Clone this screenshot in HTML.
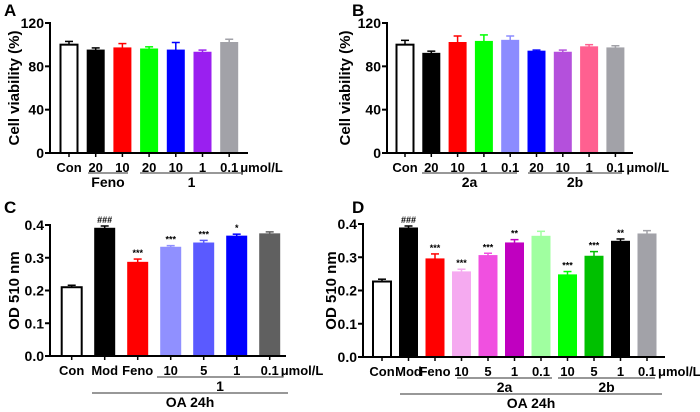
<!DOCTYPE html>
<html><head><meta charset="utf-8"><style>
html,body{margin:0;padding:0;background:#fff;width:700px;height:412px;overflow:hidden}
svg text{font-family:"Liberation Sans",Arial,sans-serif;font-weight:bold;fill:#000}
</style></head><body>
<svg id="fig" width="700" height="412" viewBox="0 0 700 412" xmlns="http://www.w3.org/2000/svg"></svg>
<script>
// Panel A data
const aCats = ["Con","20","10","20","10","1","0.1"];
const aVals = [100,95,97,96,95,93,102];
const aErrs = [3,2,4,2,7,2,3];
const aColors = ["#fff","#000","#ff0000","#00ff00","#0000ff","#9a1ff0","#a2a2a8"];
const aTicks = [0,40,80,120];
// Panel B data
const bCats = ["Con","20","10","1","0.1","20","10","1","0.1"];
const bVals = [100,92,102,103,104,94,93,98,97];
const bErrs = [4,2,6,6,4,1,2,2,2];
const bColors = ["#fff","#000","#ff0000","#00ff00","#8c8cff","#0000ff","#b450dc","#ff6090","#a2a2a8"];
const bTicks = [0,40,80,120];
// Panel C data
const cCats = ["Con","Mod","Feno","10","5","1","0.1"];
const cVals = [0.21,0.39,0.286,0.332,0.345,0.366,0.373];
const cErrs = [0.006,0.007,0.01,0.005,0.008,0.006,0.006];
const cSig = ["","###","***","***","***","*",""];
const cColors = ["#fff","#000","#ff0000","#9090ff","#5a5aff","#0000ff","#606060"];
const cTicks = ["0.0","0.1","0.2","0.3","0.4"];
// Panel D data
const dCats = ["Con","Mod","Feno","10","5","1","0.1","10","5","1","0.1"];
const dVals = [0.227,0.388,0.295,0.256,0.305,0.343,0.363,0.247,0.303,0.348,0.37];
const dErrs = [0.007,0.006,0.015,0.008,0.007,0.01,0.015,0.01,0.014,0.007,0.01];
const dSig = ["","###","***","***","***","**","","***","***","**",""];
const dColors = ["#fff","#000","#ff0000","#f5aaf0","#f050e0","#c000c0","#a0ffa0","#00ff00","#00c000","#000","#a2a2a8"];
const dTicks = ["0.0","0.1","0.2","0.3","0.4"];

const NS="http://www.w3.org/2000/svg";
const svg=document.getElementById('fig');
function mk(tag,attrs,parent){const e=document.createElementNS(NS,tag);for(const k in attrs)e.setAttribute(k,attrs[k]);(parent||svg).appendChild(e);return e;}
function txt(s,x,y,size,anchor,parent){const t=mk('text',{x:x,y:y,'font-size':size,'text-anchor':anchor||'middle'},parent);t.textContent=s;return t;}

function panel(cfg){
  const g=mk('g',{});
  
  
  const yS=v=>cfg.y0-(v-cfg.vmin)/(cfg.vmax-cfg.vmin)*(cfg.y0-cfg.y1);
  const xS=i=>cfg.xFirst+i*cfg.step;
  // ticks
  cfg.ticks.forEach(t=>{
    const y=yS(parseFloat(t));
    const tl=mk('line',{x1:cfg.ax-5,x2:cfg.ax,y1:y,y2:y,stroke:'#000','stroke-width':2},g);
    
    
    const tt=txt(String(t),cfg.ax-6,y+5,14,'end',g);
    
    
  });
  // bars
  cfg.vals.forEach((v,i)=>{
    const x=xS(i), y=yS(v), ye=yS(v+cfg.errs[i]);
    const col=cfg.colors[i];
    const ecol=col==='#fff'?'#000':col;
    const el=mk('line',{x1:x,x2:x,y1:y,y2:ye,stroke:ecol,'stroke-width':1.5},g);
    
    
    const ec=mk('line',{x1:x-4,x2:x+4,y1:ye,y2:ye,stroke:ecol,'stroke-width':1.5},g);
    
    
    const r=mk('rect',{x:x-cfg.bw/2,y:y,width:cfg.bw,height:cfg.y0-y,fill:col,stroke:col==='#fff'?'#000':col,'stroke-width':col==='#fff'?2:1},g);
    
    
    const tk=mk('line',{x1:x,x2:x,y1:cfg.y0,y2:cfg.y0+4,stroke:'#000','stroke-width':1.5},g);
    
    
    const lb=txt(cfg.cats[i],x,cfg.y0+19,13,'middle',g);
    
    
    if(cfg.sig&&cfg.sig[i]){
      const s=txt(cfg.sig[i],x,ye-3,9,'middle',g);
      s.setAttribute('font-weight','normal');
      
      
    }
  });
  // axes
  const ya=mk('line',{x1:cfg.ax,x2:cfg.ax,y1:cfg.y1-1,y2:cfg.y0+1,stroke:'#000','stroke-width':2},g);
  
  
  const xa=mk('line',{x1:cfg.ax-1,x2:cfg.axEnd,y1:cfg.y0,y2:cfg.y0,stroke:'#000','stroke-width':2},g);
  
  
  const unit=txt('\u03bcmol/L',xS(cfg.vals.length-1)+11,cfg.y0+19,13,'start',g);
  
  
  const yl=txt(cfg.ylabel,0,0,15,'middle',g);
  yl.setAttribute('transform','translate('+cfg.ylx+','+((cfg.y0+cfg.y1)/2)+') rotate(-90)');
  
  
  const pl=txt(cfg.letter,cfg.lx,cfg.ly,17,'start',g);
  
  
  cfg.groups.forEach(gr=>{
    const l=mk('line',{x1:gr[0],x2:gr[1],y1:gr[2],y2:gr[2],stroke:'#777','stroke-width':1.5},g);
    
    
    const t=txt(gr[3],(gr[0]+gr[1])/2,gr[2]+14,14,'middle',g);
    
    
  });
}

panel({name:'panel-a',letter:'A',lx:4,ly:16,cats:aCats,vals:aVals,errs:aErrs,colors:aColors,ticks:aTicks,vmin:0,vmax:120,
  ax:50,axEnd:248,y0:153,y1:23,xFirst:69,step:26.7,bw:17,ylabel:'Cell viability (%)',ylx:19,
  groups:[[88,128,173,'Feno'],[140,243,173,'1']]});
panel({name:'panel-b',letter:'B',lx:352,ly:16,cats:bCats,vals:bVals,errs:bErrs,colors:bColors,ticks:bTicks,vmin:0,vmax:120,
  ax:387,axEnd:633,y0:153,y1:23,xFirst:405,step:26.3,bw:17,ylabel:'Cell viability (%)',ylx:350,
  groups:[[422,517,173,'2a'],[528,622,173,'2b']]});
panel({name:'panel-c',letter:'C',lx:4,ly:213,cats:cCats,vals:cVals,errs:cErrs,sig:cSig,colors:cColors,ticks:cTicks,vmin:0,vmax:0.4,
  ax:50,axEnd:286,y0:356,y1:225,xFirst:71.7,step:33,bw:20,ylabel:'OD 510 nm',ylx:19,
  groups:[[157,283,377,'1'],[92,288,393,'OA 24h']]});
panel({name:'panel-d',letter:'D',lx:352,ly:213,cats:dCats,vals:dVals,errs:dErrs,sig:dSig,colors:dColors,ticks:dTicks,vmin:0,vmax:0.4,
  ax:363,axEnd:665,y0:357,y1:224,xFirst:382,step:26.5,bw:18,ylabel:'OD 510 nm',ylx:336,
  groups:[[457,552,378,'2a'],[558,655,378,'2b'],[400,662,394,'OA 24h']]});
</script>
</body></html>
